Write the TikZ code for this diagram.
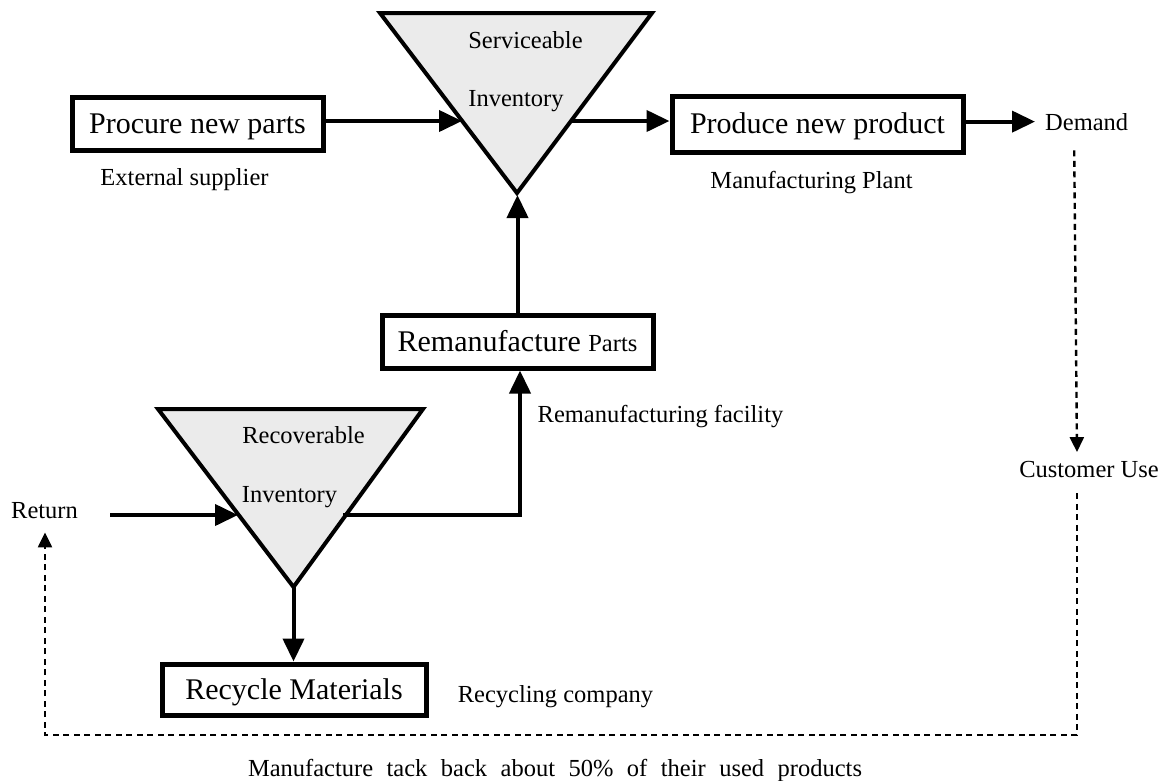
\documentclass[tikz,border=0pt]{standalone}
\usepackage{fontspec}
\setmainfont{Liberation Serif}
\usetikzlibrary{arrows.meta,calc}
\begin{document}
\begin{tikzpicture}[x=1pt,y=-1pt,
  big/.style={font=\fontsize{30}{34}\selectfont},
  small/.style={font=\fontsize{24.5}{28}\selectfont},
  box/.style={draw,line width=5pt,rectangle,inner sep=0pt,big,text height=21pt,text depth=2pt},
  lbl/.style={small,inner sep=0pt,anchor=base},
  tri/.style={draw,line width=4pt,fill=black!8,line join=miter},
  arr/.style={line width=4pt,line join=miter,-{Triangle[length=23pt,width=21pt]}},
  dsh/.style={line width=2.4pt,line join=miter,dash pattern=on 6pt off 4.5pt},
  dsharr/.style={dsh,-{Triangle[length=15pt,width=14pt]}}
]
\useasboundingbox (0,0) rectangle (1172,780);

% inventories
\draw[tri] (380,13) -- (652,13) -- (517,193) -- cycle;
\draw[tri] (158,409) -- (423,409) -- (293.5,587) -- cycle;
\coordinate (servL) at (462,121);
\coordinate (servR) at (571,121);
\coordinate (servB) at (517.5,195);
\coordinate (recL) at (238,515);
\coordinate (recR) at (343,515);
\coordinate (recB) at (293.5,587);
\coordinate (bot) at (0,735);

\node[lbl] (servt1) at (525.5,48) {Serviceable};
\node[lbl] (servt2) at (516,106) {Inventory};
\node[lbl] (rect1) at (303.5,443) {Recoverable};
\node[lbl] (rect2) at (289.5,502) {Inventory};

% process boxes
\node[box,minimum width=251pt,minimum height=53pt] (procure) at (197.5,123.5) {Procure new parts};
\node[box,minimum width=291pt,minimum height=56pt] (produce) at (817.5,124) {Produce new product};
\node[box,minimum width=271pt,minimum height=53pt] (reman) at (517.5,341.5) {Remanufacture {\fontsize{24.5}{28}\selectfont Parts}};
\node[box,minimum width=264pt,minimum height=51pt] (recycle) at (294,689.5) {Recycle Materials};

% labels
\node[lbl] (ext) at (184.5,185) {External supplier};
\node[lbl] (mplant) at (811.5,188) {Manufacturing Plant};
\node[lbl] (remfac) at (660.5,422) {Remanufacturing facility};
\node[lbl] (recco) at (555.5,702) {Recycling company};
\node[lbl] (customer) at (1089,477) {Customer Use};
\node[lbl] (return) at (44.5,518) {Return};
\node[lbl,anchor=base west] (demand) at (1045,130) {Demand};
\node[lbl] (note) at (555,776) {\makebox[614pt][s]{Manufacture tack back about 50\% of their used products}};

% flows
\draw[arr] (procure.east |- servL) -- (servL);
\draw[arr] (servR) -- (produce.west |- servR);
\draw[arr] (produce.east |- demand.west) -- ([xshift=-10pt]demand.west);
\draw[arr] (reman.north) -- (servB);
\draw[arr] (recR) -| ([xshift=2.5pt]reman.south);
\draw[arr] (recB) -- (recB |- recycle.north);
\draw[arr] ([xshift=32pt]return.east |- recL) -- (recL);

% dashed customer loop
\draw[dsharr] ($(demand.south)+(-12.5,20)$) -- ($(customer.north)+(-12,-8.5)$);
\coordinate (cs) at ($(customer.south)+(-12,16)$);
\coordinate (rs) at ($(return.south)+(0.5,14)$);
\draw[dsharr] (cs) -- (cs |- bot) -- (rs |- bot) -- (rs);
\end{tikzpicture}
\end{document}
